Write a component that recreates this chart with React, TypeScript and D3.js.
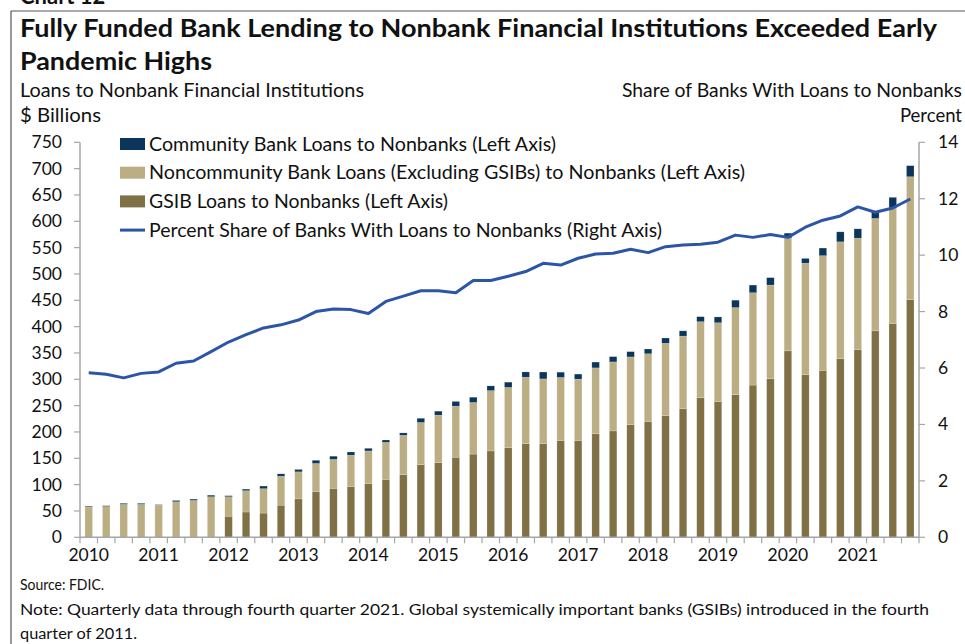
import React from "react";
import * as d3 from "d3";

const years = ["2010","2011","2012","2013","2014","2015","2016","2017","2018","2019","2020","2021"];
const quarters = years.flatMap((y) => ["Q1", "Q2", "Q3", "Q4"].map((q) => `${y} ${q}`));

const gsib = [0,0,0,0,0,0,0,0,40,48,46,61,73,87,93,96,102,110,119,138,142,152,158,164,170,178,178,184,184,197,202,214,220,231,244,265,258,271,289,301,354,309,317,339,356,392,406,451];
const noncommunity = [57.5,58.5,62.5,62.5,61,67.5,70,77,37,40.5,46.3,55,51.3,53.2,55,60,62,70.3,74.7,80,90,97,98,114.5,114.6,126,122.8,119.5,116.4,124.7,131,128.5,128.5,137.4,138,144.4,149.4,165.2,175.4,178,214,211.5,217.7,222,212,213.4,220,233.6];
const community = [1.5,1.5,2,2,1,2.5,2.5,3,2,3,5,4.5,4.5,6,6,6,5,4.5,4.5,8,7.5,9,10,9,10,10,13,10,9.5,11,10,10,9,10,10,9.5,11,14,14.5,14,9.5,9,14.5,19,17.7,12,19.5,21];
const shareWithLoans = [5.83,5.78,5.65,5.81,5.86,6.17,6.25,6.58,6.92,7.18,7.42,7.53,7.70,8.0,8.09,8.07,7.93,8.36,8.55,8.74,8.74,8.67,9.10,9.10,9.25,9.42,9.71,9.65,9.89,10.04,10.07,10.21,10.09,10.30,10.36,10.39,10.46,10.71,10.63,10.73,10.63,10.99,11.24,11.39,11.71,11.52,11.67,11.99];

const leftTicks = [0,50,100,150,200,250,300,350,400,450,500,550,600,650,700,750];
const rightTicks = [0,2,4,6,8,10,12,14];

const legendItems = [
  { label: "Community Bank Loans to Nonbanks (Left Axis)", key: "community", len: 407 },
  { label: "Noncommunity Bank Loans (Excluding GSIBs) to Nonbanks (Left Axis)", key: "noncommunity", len: 596 },
  { label: "GSIB Loans to Nonbanks (Left Axis)", key: "gsib", len: 299 },
  { label: "Percent Share of Banks With Loans to Nonbanks (Right Axis)", key: "line", len: 513 },
];

const COLORS: Record<string, string> = {
  gsib: "#7f7046",
  noncommunity: "#bbae84",
  community: "#0b365b",
  line: "#2c55a8",
};

const W = 965, H = 644;
const PL = 80, PR = 919, PT = 142.3, PB = 537.3;
const FONT = "Lato, 'Open Sans', sans-serif";
const AXIS = "#a6a6a6";

export default function App() {
  const x = d3.scaleBand<string>().domain(quarters).range([PL, PR]).paddingInner(0.57).paddingOuter(0.285);
  const yL = d3.scaleLinear().domain([0, 750]).range([PB, PT]);
  const yR = d3.scaleLinear().domain([0, 14]).range([PB, PT]);

  const rows = quarters.map((q, i) => ({ q, gsib: gsib[i], noncommunity: noncommunity[i], community: community[i] }));
  const stack = d3.stack<any>().keys(["gsib", "noncommunity", "community"])(rows);

  const line = d3.line<number>()
    .x((_, i) => (x(quarters[i]) as number) + x.bandwidth() / 2)
    .y((d) => yR(d))
    .curve(d3.curveLinear);

  const step = x.step();
  const boundaries = d3.range(quarters.length + 1).map((i) => PL + i * step);

  return (
    <div style={{ position: "absolute", left: 0, top: 0 }}>
      <svg width={W} height={H} style={{ display: "block", background: "#fff" }} fontFamily={FONT}>
        <text x={20} y={4} fontSize={22} fontWeight={700} fill="#111">Chart 12</text>
        <line x1={11} y1={11} x2={W} y2={11} stroke="#555" strokeWidth={1.2} />
        <line x1={11} y1={11} x2={11} y2={H} stroke="#555" strokeWidth={1.2} />

        <text x={20} y={37} fontSize={25} fontWeight={700} fill="#111" textLength={917} lengthAdjust="spacingAndGlyphs">Fully Funded Bank Lending to Nonbank Financial Institutions Exceeded Early</text>
        <text x={20} y={70} fontSize={25} fontWeight={700} fill="#111" textLength={192} lengthAdjust="spacingAndGlyphs">Pandemic Highs</text>

        <text x={20} y={97} fontSize={18.5} fill="#111" textLength={344} lengthAdjust="spacingAndGlyphs">Loans to Nonbank Financial Institutions</text>
        <text x={20} y={122} fontSize={18.5} fill="#111" textLength={81} lengthAdjust="spacingAndGlyphs">$ Billions</text>
        <text x={622} y={97} fontSize={18.5} fill="#111" textLength={340} lengthAdjust="spacingAndGlyphs">Share of Banks With Loans to Nonbanks</text>
        <text x={962} y={122} fontSize={18.5} fill="#111" textAnchor="end">Percent</text>

        {stack.map((layer) => (
          <g key={layer.key} fill={COLORS[layer.key]}>
            {layer.map((d, i) => {
              const h = yL(d[0]) - yL(d[1]);
              if (h <= 0) return null;
              return (
                <rect key={i} x={x(quarters[i])} y={yL(d[1])} width={x.bandwidth()} height={h}
                  stroke="#ffffff" strokeOpacity={0.35} strokeWidth={0.5} />
              );
            })}
          </g>
        ))}

        <line x1={PL} y1={PT} x2={PL} y2={PB} stroke={AXIS} strokeWidth={1.5} />
        <line x1={PR} y1={PT} x2={PR} y2={PB} stroke={AXIS} strokeWidth={1.5} />
        <line x1={PL} y1={PB} x2={PR} y2={PB} stroke={AXIS} strokeWidth={1.5} />
        {leftTicks.map((t) => (
          <g key={"l" + t}>
            <line x1={PL - 6} x2={PL} y1={yL(t)} y2={yL(t)} stroke={AXIS} strokeWidth={1.2} />
            <text x={62} y={yL(t) + 6} fontSize={17.5} textAnchor="end" fill="#111">{t}</text>
          </g>
        ))}
        {rightTicks.map((t) => (
          <g key={"r" + t}>
            <line x1={PR} x2={PR + 6} y1={yR(t)} y2={yR(t)} stroke={AXIS} strokeWidth={1.2} />
            <text x={938} y={yR(t) + 6} fontSize={17.5} textAnchor="start" fill="#111">{t}</text>
          </g>
        ))}
        {boundaries.map((bx, i) => (
          <line key={"b" + i} x1={bx} x2={bx} y1={PB} y2={PB + 6} stroke={AXIS} strokeWidth={1.2} />
        ))}
        {years.map((yr, k) => (
          <text key={yr} x={(x(quarters[k * 4]) as number) + x.bandwidth() / 2} y={561} fontSize={17.5} textAnchor="middle" fill="#111">{yr}</text>
        ))}

        <path d={line(shareWithLoans) || ""} fill="none" stroke={COLORS.line} strokeWidth={3} strokeLinejoin="round" />

        {legendItems.map((it, i) => {
          const cy = 144 + i * 28.7;
          return (
            <g key={it.key}>
              {it.key === "line" ? (
                <line x1={120} x2={145} y1={cy} y2={cy} stroke={COLORS.line} strokeWidth={3} />
              ) : (
                <rect x={120} y={cy - 6} width={25} height={12} fill={COLORS[it.key]} />
              )}
              <text x={149} y={cy + 6.5} fontSize={18.5} fill="#111" textLength={it.len} lengthAdjust="spacingAndGlyphs">{it.label}</text>
            </g>
          );
        })}

        <text x={20} y={590} fontSize={15.5} fill="#111" textLength={84} lengthAdjust="spacingAndGlyphs">Source: FDIC.</text>
        <text x={20} y={615} fontSize={15.5} fill="#111" textLength={909} lengthAdjust="spacingAndGlyphs">Note: Quarterly data through fourth quarter 2021.  Global systemically important banks (GSIBs) introduced in the fourth</text>
        <text x={20} y={639} fontSize={15.5} fill="#111" textLength={117} lengthAdjust="spacingAndGlyphs">quarter of 2011.</text>
      </svg>
    </div>
  );
}
